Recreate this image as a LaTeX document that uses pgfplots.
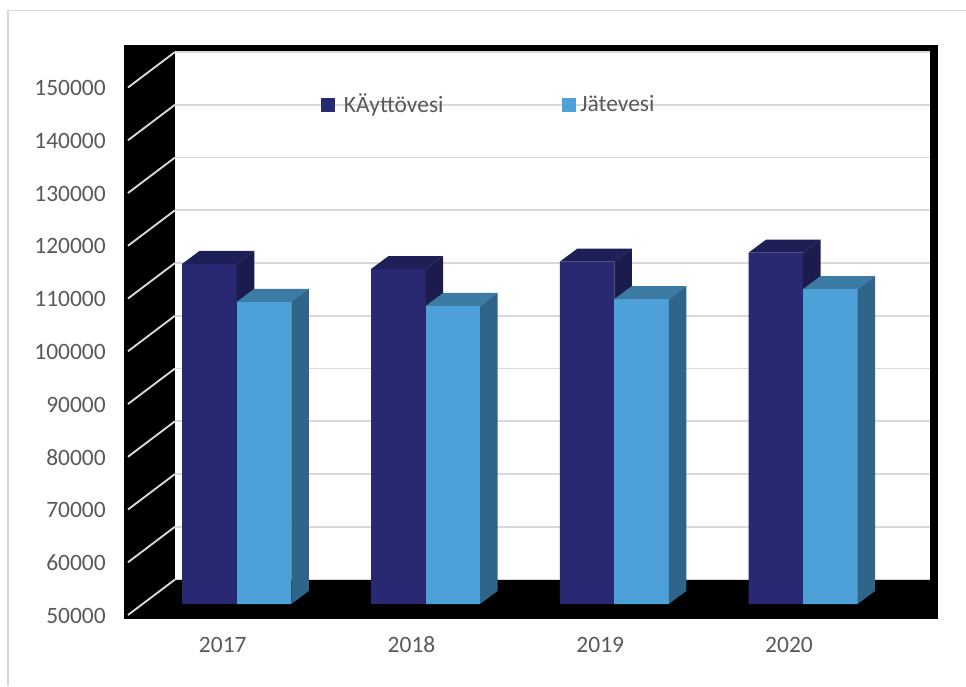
\documentclass[border=0pt]{standalone}
\usepackage{fontspec}
\setmainfont{Carlito}
\usepackage{pgfplots}
\pgfplotsset{compat=1.18}
\usepackage{pgfplotstable}

\definecolor{kfront}{RGB}{40,40,115}
\definecolor{ktop}{RGB}{31,31,88}
\definecolor{kside}{RGB}{27,27,76}
\definecolor{jfront}{RGB}{78,160,216}
\definecolor{jtop}{RGB}{60,124,164}
\definecolor{jside}{RGB}{47,101,137}
\definecolor{labelgray}{RGB}{89,89,89}
\definecolor{gridgray}{RGB}{217,217,217}

\pgfplotstableread{
x k j
0 114500 107300
1 113500 106500
2 114900 107800
3 116600 109700
}\data

\newdimen\boxheight
% #1 left, #2 right of front face; #3 top colour; #4 side colour; #5 front colour
\newcommand\drawthreed[5]{%
  \pgfmathsetlength\boxheight{\pgfplotspointmetatransformed*0.395625pt}%
  \pgfsetfillcolor{#5}%
  \pgfpathrectanglecorners{\pgfpoint{#1}{0pt}}{\pgfpoint{#2}{-\boxheight}}%
  \pgfusepath{fill}%
  \pgfsetfillcolor{#3}%
  \pgfpathmoveto{\pgfpoint{#1}{0pt}}%
  \pgfpathlineto{\pgfpoint{#2}{0pt}}%
  \pgfpathlineto{\pgfpoint{#2+13.125pt}{9.75pt}}%
  \pgfpathlineto{\pgfpoint{#1+13.125pt}{9.75pt}}%
  \pgfpathclose\pgfusepath{fill}%
  \pgfsetfillcolor{#4}%
  \pgfpathmoveto{\pgfpoint{#2}{0pt}}%
  \pgfpathlineto{\pgfpoint{#2+13.125pt}{9.75pt}}%
  \pgfpathlineto{\pgfpoint{#2+13.125pt}{9.75pt-\boxheight}}%
  \pgfpathlineto{\pgfpoint{#2}{-\boxheight}}%
  \pgfpathclose\pgfusepath{fill}%
}
\pgfdeclareplotmark{kbox}{\drawthreed{-40.875pt}{0pt}{ktop}{kside}{kfront}}
\pgfdeclareplotmark{jbox}{\drawthreed{0pt}{40.875pt}{jtop}{jside}{jfront}}

\newcommand\lblfont{\fontsize{17.6}{20}\selectfont}

\begin{document}
\begin{tikzpicture}
\begin{scope}[x=0.75pt,y=-0.75pt]
  \path[use as bounding box] (0,0) rectangle (966,686);
  \draw[gridgray, line width=1.1pt] (8,686) -- (8,10.7) -- (966,10.7);
  \fill[black] (124,45) rectangle (938,619.3);
  \foreach \i in {0,...,10}
    \draw[gridgray, line width=1.4pt] (128,615-52.75*\i) -- (175,579.5-52.75*\i);
\end{scope}

% back wall
\begin{axis}[
  at={(131.25pt,-434.625pt)}, anchor=south west,
  width=566.25pt, height=395.625pt, scale only axis,
  xmin=0, xmax=1, ymin=50000, ymax=150000,
  ytick={50000,60000,...,150000},
  yticklabels={50000,60000,70000,80000,90000,100000,110000,120000,130000,140000,150000},
  scaled y ticks=false,
  xtick=\empty,
  ymajorgrids, grid style={draw=gridgray, line width=1.2pt},
  axis line style={draw=none},
  major tick length=0pt,
  axis background/.style={fill=white},
  yticklabel style={font=\lblfont, text=labelgray, anchor=east, inner sep=0pt, xshift=-51.75pt, yshift=-27pt},
]
\end{axis}

% bars (front plane)
\begin{axis}[
  at={(106.8pt,-453pt)}, anchor=south west,
  width=566.25pt, height=395.625pt, scale only axis,
  xmin=-0.5, xmax=3.5, ymin=50000, ymax=150000,
  xtick={0,1,2,3}, xticklabels={2017,2018,2019,2020},
  ytick=\empty, scaled y ticks=false,
  axis line style={draw=none},
  major tick length=0pt,
  point meta min=50000, point meta max=150000,
  xticklabel style={font=\lblfont, text=labelgray, anchor=center, xshift=-10.5pt, yshift=-30.75pt},
  legend columns=2,
  legend style={at={(axis description cs:0.2366,0.9469)}, anchor=west, draw=none, fill=none,
    inner sep=0pt, font=\lblfont, text=labelgray,
    /tikz/every even column/.append style={column sep=86.5pt}},
]
\addplot[ybar, bar width=40.875pt, bar shift=-20.4375pt, fill=kfront, draw=none,
  legend image code/.code={\fill[kfront] (0pt,-5.25pt) rectangle (10.5pt,5.25pt);
    \path (15pt,0pt);}]
  table[x=x,y=k] {\data};
\addlegendentry{KÄyttövesi}
\addplot[scatter, only marks, mark=kbox, forget plot, point meta=y]
  table[x=x,y=k] {\data};
\addplot[ybar, bar width=40.875pt, bar shift=20.4375pt, fill=jfront, draw=none,
  legend image code/.code={\fill[jfront] (0pt,-5.25pt) rectangle (10.5pt,5.25pt);
    \path (12pt,0pt);}]
  table[x=x,y=j] {\data};
\addlegendentry{Jätevesi}
\addplot[scatter, only marks, mark=jbox, forget plot, point meta=y]
  table[x=x,y=j] {\data};
\end{axis}
\end{tikzpicture}
\end{document}
